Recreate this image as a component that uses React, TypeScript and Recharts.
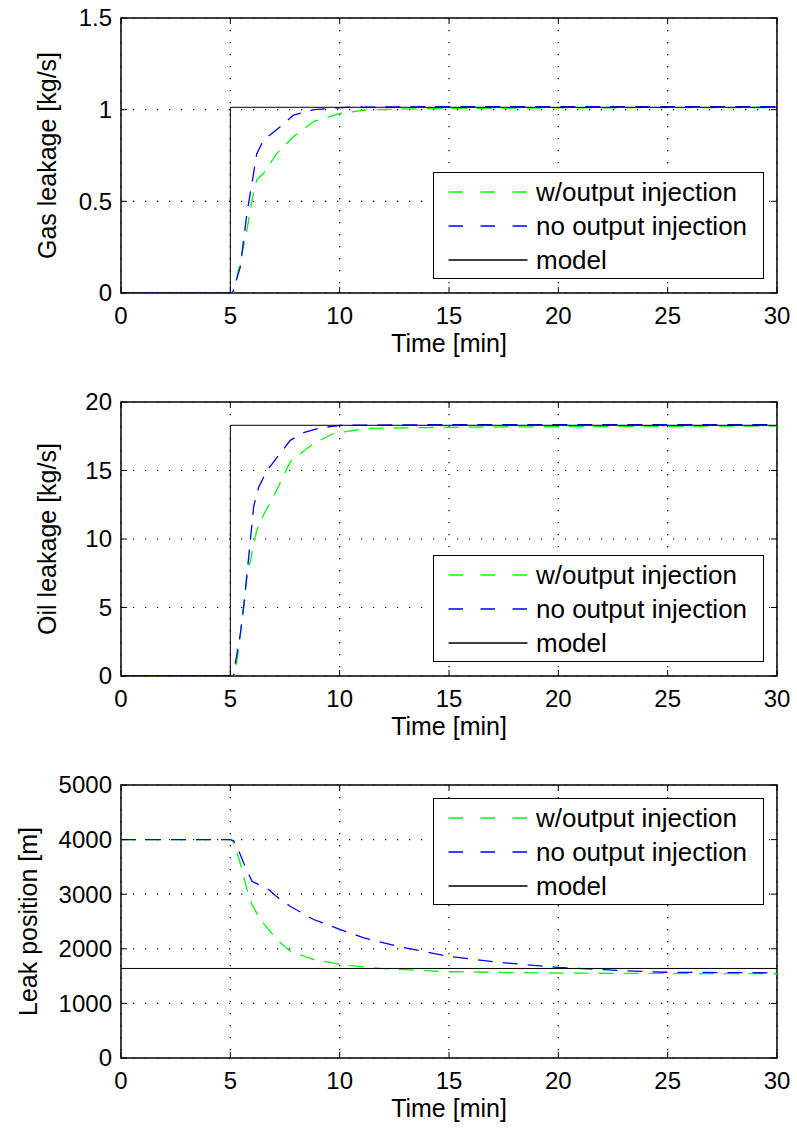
import React from 'react';
import { LineChart, Line, XAxis, YAxis, CartesianGrid, ReferenceArea } from 'recharts';

const FONT = '"Liberation Sans", Arial, Helvetica, sans-serif';
const FS = 25;
const TICK_FS = 24;

// ---- shared axis / legend data ----
const timeTicks = [0, 5, 10, 15, 20, 25, 30];
const gasTicks = [0, 0.5, 1, 1.5];
const oilTicks = [0, 5, 10, 15, 20];
const posTicks = [0, 1000, 2000, 3000, 4000, 5000];
const legendLabels = ['w/output injection', 'no output injection', 'model'];
const seriesColors = ['#00ff00', '#0000ff', '#000000'];

// ---- gas leakage [kg/s] ----
const gasModelT = [0, 5, 5, 30];
const gasModelV = [0, 0, 1.013, 1.013];
const gasGreenT = [0, 5.15, 5.37, 5.76, 5.99, 6.21, 6.52, 7.13, 7.89, 8.81, 10.03, 11.3, 15, 20, 30];
const gasGreenV = [0, 0, 0.125, 0.344, 0.507, 0.617, 0.653, 0.762, 0.853, 0.935, 0.98, 1.0, 1.007, 1.01, 1.012];
const gasBlueT = [0, 5.1, 5.45, 5.76, 6.06, 6.21, 6.52, 7.28, 7.89, 8.81, 10.3, 15, 20, 30];
const gasBlueV = [0, 0, 0.14, 0.435, 0.65, 0.76, 0.835, 0.907, 0.97, 1.0, 1.013, 1.017, 1.017, 1.017];

// ---- oil leakage [kg/s] ----
const oilModelT = [0, 5, 5, 30];
const oilModelV = [0, 0, 18.3, 18.3];
const oilGreenT = [0, 5.2, 5.37, 5.61, 5.76, 6.21, 6.52, 7.13, 7.74, 8.81, 9.73, 11.25, 15, 20, 30];
const oilGreenV = [0, 0, 1.9, 5.06, 7.25, 10.66, 11.75, 13.6, 15.64, 16.98, 17.7, 18.08, 18.15, 18.2, 18.25];
const oilBlueT = [0, 5.15, 5.23, 5.46, 5.61, 5.84, 6.07, 6.3, 6.68, 7.21, 7.74, 8.35, 9.1, 10, 15, 20, 30];
const oilBlueV = [0, 0, 0.93, 3.1, 5.06, 8.7, 12.4, 13.8, 15.0, 16.1, 17.2, 17.76, 18.1, 18.3, 18.35, 18.35, 18.35];

// ---- leak position [m] ----
const posModelT = [0, 30];
const posModelV = [1640, 1640];
const posGreenT = [0, 5, 5.15, 5.45, 5.76, 5.99, 6.37, 7.13, 7.74, 8.81, 10.03, 11.86, 14.92, 20, 25, 30];
const posGreenV = [4000, 4000, 3950, 3572, 3084, 2810, 2536, 2170, 1956, 1804, 1713, 1640, 1580, 1555, 1548, 1543];
const posBlueT = [0, 5, 5.15, 5.3, 5.61, 5.99, 6.75, 7.28, 7.74, 8.81, 10.03, 11.1, 12.63, 14.92, 17.2, 19.96, 23.47, 25, 30];
const posBlueV = [4000, 4000, 3980, 3876, 3572, 3236, 3084, 2901, 2779, 2536, 2353, 2201, 2048, 1865, 1755, 1660, 1590, 1570, 1560];

const zip = (t: number[], v: number[]) => t.map((x, i) => ({ t: x, v: v[i] }));

const PLOT_LEFT = 121;
const PLOT_RIGHT = 777;
const W = 797;
const TICK = 6;

type PanelProps = {
  top: number;
  height: number;
  plotTop: number;
  plotBottom: number;
  yTicks: number[];
  yLabel: string;
  yLabelX: number;
  legendTop: number;
  green: { t: number; v: number }[];
  blue: { t: number; v: number }[];
  model: { t: number; v: number }[];
};

const Legend = ({ top }: { top: number }) => (
  <div
    style={{
      position: 'absolute',
      left: 433,
      top,
      width: 331,
      height: 107,
      border: '1.5px solid #000',
      boxSizing: 'border-box',
      background: '#fff',
      fontFamily: FONT,
      fontSize: 26,
    }}
  >
    {legendLabels.map((lab, i) => {
      const cy = 19 + 34 * i;
      return (
        <React.Fragment key={lab}>
          <svg style={{ position: 'absolute', left: 14, top: cy - 2 }} width={80} height={4}>
            <line
              x1={0.5}
              x2={79.5}
              y1={2}
              y2={2}
              stroke={seriesColors[i]}
              strokeWidth={1.3}
              strokeDasharray={i < 2 ? '14.5 17.5' : undefined}
            />
          </svg>
          <div
            style={{
              position: 'absolute',
              left: 102,
              top: cy - 15,
              lineHeight: '30px',
              whiteSpace: 'nowrap',
              color: '#000',
            }}
          >
            {lab}
          </div>
        </React.Fragment>
      );
    })}
  </div>
);

const Panel = (p: PanelProps) => {
  const { top, height, plotTop, plotBottom, yTicks } = p;
  const yMax = yTicks[yTicks.length - 1];
  const xAxisH = 30;
  const yAxisW = 60;
  const margin = {
    top: plotTop,
    bottom: height - plotBottom - xAxisH,
    left: PLOT_LEFT - yAxisW,
    right: W - PLOT_RIGHT,
  };

  const xTick = (props: any) => {
    const { x, y, payload } = props;
    return (
      <g>
        <line x1={x} x2={x} y1={y} y2={y - TICK} stroke="#000" strokeWidth={1} />
        <line x1={x} x2={x} y1={plotTop} y2={plotTop + TICK} stroke="#000" strokeWidth={1} />
        <text x={x} y={y + 23} dy="0.35em" textAnchor="middle" fontFamily={FONT} fontSize={TICK_FS} fill="#000">
          {payload.value}
        </text>
      </g>
    );
  };

  const yTick = (props: any) => {
    const { x, y, payload } = props;
    return (
      <g>
        <line x1={x} x2={x + TICK} y1={y} y2={y} stroke="#000" strokeWidth={1} />
        <line x1={PLOT_RIGHT} x2={PLOT_RIGHT - TICK} y1={y} y2={y} stroke="#000" strokeWidth={1} />
        <text x={x - 9} y={y} dy="0.35em" textAnchor="end" fontFamily={FONT} fontSize={TICK_FS} fill="#000">
          {payload.value}
        </text>
      </g>
    );
  };

  const xLabel = (props: any) => {
    const vb = props.viewBox || {};
    const cx = vb.x + vb.width / 2;
    return (
      <text x={cx} y={plotBottom + 50} dy="0.35em" textAnchor="middle" fontFamily={FONT} fontSize={FS} fill="#000">
        Time [min]
      </text>
    );
  };

  const yLabel = () => {
    const cx = p.yLabelX;
    const cy = (plotTop + plotBottom) / 2;
    return (
      <text
        x={cx}
        y={cy}
        dy="0.35em"
        textAnchor="middle"
        transform={`rotate(-90 ${cx} ${cy})`}
        fontFamily={FONT}
        fontSize={FS}
        fill="#000"
      >
        {p.yLabel}
      </text>
    );
  };

  return (
    <div style={{ position: 'absolute', left: 0, top, width: W, height }}>
      <LineChart width={W} height={height} margin={margin}>
        <CartesianGrid stroke="#000" strokeWidth={1.2} strokeDasharray="1.2 10.8" />
        <XAxis
          dataKey="t"
          type="number"
          domain={[0, 30]}
          ticks={timeTicks}
          interval={0}
          height={xAxisH}
          tickSize={0}
          tickMargin={0}
          tickLine={false}
          axisLine={false}
          tick={xTick}
          label={xLabel}
          allowDataOverflow
        />
        <YAxis
          dataKey="v"
          type="number"
          domain={[0, yMax]}
          ticks={yTicks}
          interval={0}
          width={yAxisW}
          tickSize={0}
          tickMargin={0}
          tickLine={false}
          axisLine={false}
          tick={yTick}
          label={yLabel}
          allowDataOverflow
        />
        <ReferenceArea
          x1={0}
          x2={30}
          y1={0}
          y2={yMax}
          fill="none"
          fillOpacity={0}
          stroke="#000"
          strokeWidth={1.5}
          ifOverflow="visible"
        />
        <Line
          data={p.green}
          dataKey="v"
          type="linear"
          dot={false}
          stroke={seriesColors[0]}
          strokeWidth={1.3}
          strokeDasharray="15 10"
          isAnimationActive={false}
        />
        <Line
          data={p.blue}
          dataKey="v"
          type="linear"
          dot={false}
          stroke={seriesColors[1]}
          strokeWidth={1.3}
          strokeDasharray="15 10"
          isAnimationActive={false}
        />
        <Line
          data={p.model}
          dataKey="v"
          type="linear"
          dot={false}
          stroke={seriesColors[2]}
          strokeWidth={1}
          isAnimationActive={false}
        />
      </LineChart>
      <Legend top={p.legendTop - top} />
    </div>
  );
};

export default function App() {
  return (
    <div style={{ position: 'absolute', left: 0, top: 0, width: W, height: 1133, background: '#fff' }}>
      <Panel
        top={0}
        height={385}
        plotTop={18}
        plotBottom={293}
        yTicks={gasTicks}
        yLabel="Gas leakage [kg/s]"
        yLabelX={47}
        legendTop={172}
        green={zip(gasGreenT, gasGreenV)}
        blue={zip(gasBlueT, gasBlueV)}
        model={zip(gasModelT, gasModelV)}
      />
      <Panel
        top={385}
        height={385}
        plotTop={402 - 385}
        plotBottom={676 - 385}
        yTicks={oilTicks}
        yLabel="Oil leakage [kg/s]"
        yLabelX={47}
        legendTop={555}
        green={zip(oilGreenT, oilGreenV)}
        blue={zip(oilBlueT, oilBlueV)}
        model={zip(oilModelT, oilModelV)}
      />
      <Panel
        top={770}
        height={363}
        plotTop={785 - 770}
        plotBottom={1058 - 770}
        yTicks={posTicks}
        yLabel="Leak position [m]"
        yLabelX={28}
        legendTop={798}
        green={zip(posGreenT, posGreenV)}
        blue={zip(posBlueT, posBlueV)}
        model={zip(posModelT, posModelV)}
      />
    </div>
  );
}
